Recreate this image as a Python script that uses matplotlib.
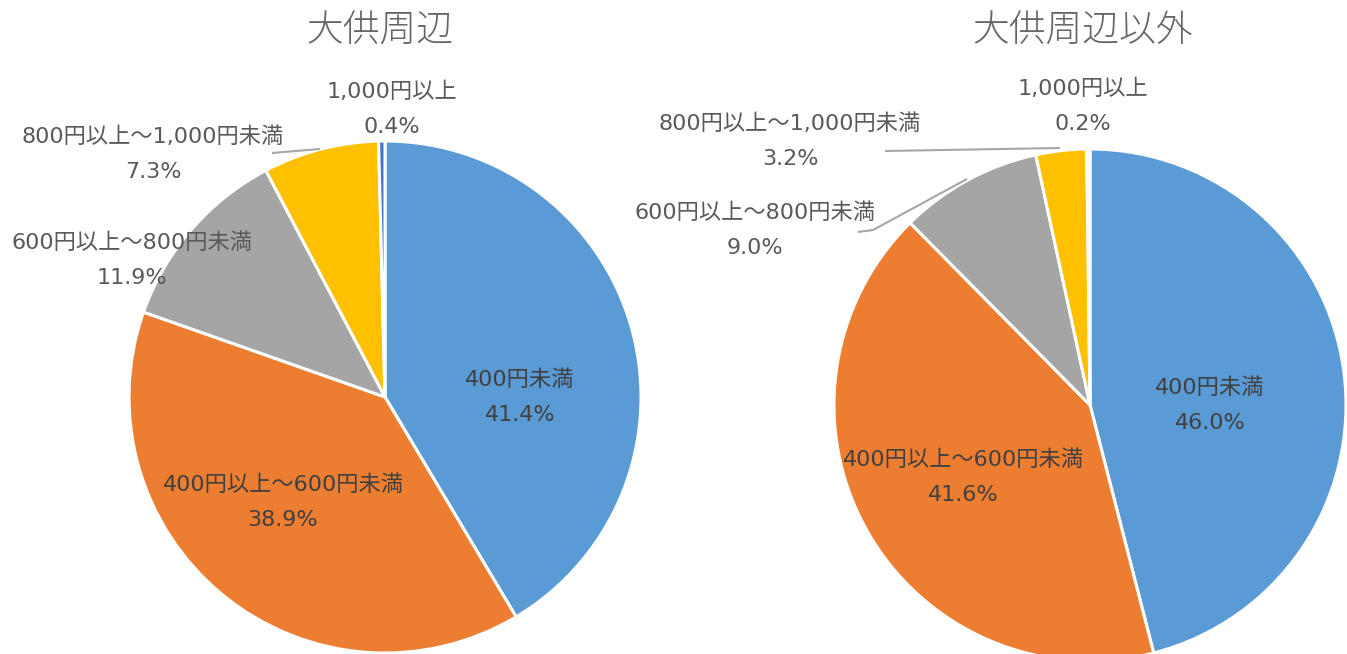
import matplotlib
matplotlib.use("Agg")
import matplotlib.pyplot as plt

plt.rcParams['font.family'] = ['DejaVu Sans', 'Noto Sans CJK JP']

# data
categories = ["400円未満", "400円以上～600円未満", "600円以上～800円未満",
              "800円以上～1,000円未満", "1,000円以上"]
near_values = [41.4, 38.9, 11.9, 7.3, 0.4]
other_values = [46.0, 41.6, 9.0, 3.2, 0.2]
titles = ["大供周辺", "大供周辺以外"]

colors = ['#5B9BD5', '#ED7D31', '#A5A5A5', '#FFC000', '#4472C4']
TXT = '#666666'
LBL_IN = '#404040'
LBL_OUT = '#595959'
W, H = 1347, 654

# layout in pixel space (x, y from top)
pies = [
    dict(values=near_values, center=(385, 397), r=256, title_xy=(380, 31),
         labels=[(520, 380), (283, 485), (132, 243), (153, 137), (392, 92)],
         leaders=[None, None, None, [(272, 153), (320, 149)], None]),
    dict(values=other_values, center=(1090, 405), r=256, title_xy=(1083, 31),
         labels=[(1210, 388), (963, 460), (755, 213), (790, 124), (1083, 89)],
         leaders=[None, None, [(858, 232), (873, 230), (967, 179)],
                  [(885, 151), (1060, 148)], None]),
]

fig = plt.figure(figsize=(W / 100, H / 100), dpi=100)
ax = fig.add_axes([0, 0, 1, 1])
ax.set_xlim(0, W)
ax.set_ylim(0, H)
ax.set_aspect('equal')
ax.axis('off')

for p, title in zip(pies, titles):
    cx, cy = p['center']
    ax.pie(p['values'], colors=colors, startangle=90, counterclock=False,
           center=(cx, H - cy), radius=p['r'],
           wedgeprops=dict(edgecolor='white', linewidth=2.2))
    tx, ty = p['title_xy']
    ax.text(tx, H - ty, title, fontsize=26.5, color=TXT, ha='center', va='center',
            family='Noto Sans CJK JP', fontweight='light')
    for i, (cat, val, (lx, ly), lead) in enumerate(
            zip(categories, p['values'], p['labels'], p['leaders'])):
        col = LBL_IN if i < 2 else LBL_OUT
        ax.text(lx, H - ly, cat, fontsize=16, color=col, ha='center', va='center')
        ax.text(lx, H - ly - 35, f"{val:.1f}%", fontsize=16, color=col,
                ha='center', va='center')
        if lead:
            xs = [q[0] for q in lead]
            ys = [H - q[1] for q in lead]
            ax.plot(xs, ys, color='#A6A6A6', lw=1.5, solid_capstyle='butt')

ax.set_xlim(0, W)
ax.set_ylim(0, H)
fig.savefig("out.png", dpi=100)
